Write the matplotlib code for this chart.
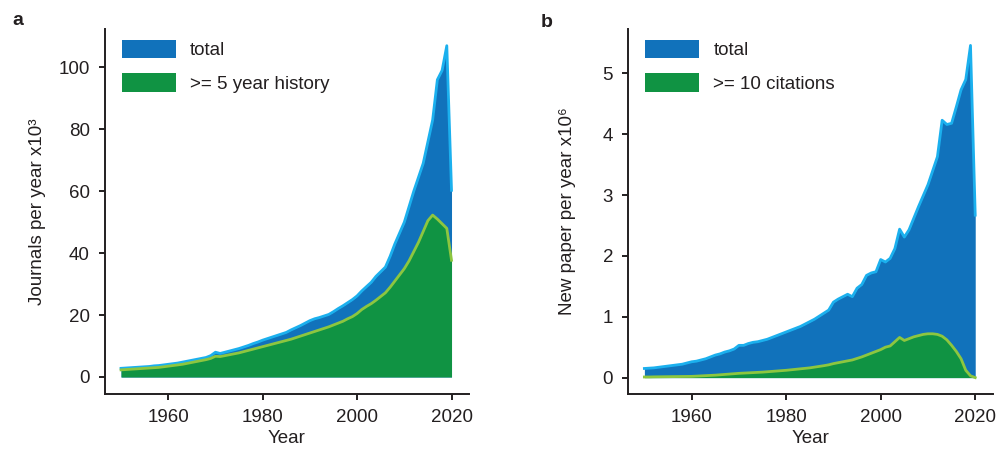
import matplotlib
matplotlib.use("Agg")
import matplotlib.pyplot as plt
from matplotlib.patches import Patch
import numpy as np

plt.rcParams['font.family'] = ['Liberation Sans', 'DejaVu Sans']
plt.rcParams['font.size'] = 13.5

# jaren
years = np.arange(1950, 2021)

# paneel a: tijdschriften per jaar (x10^3)
journals_total = [2.8, 2.9, 3.0, 3.1, 3.2, 3.3, 3.4, 3.6, 3.7, 3.9,
                  4.1, 4.3, 4.5, 4.8, 5.1, 5.4, 5.7, 6.0, 6.3, 6.9,
                  8.0, 7.6, 8.0, 8.4, 8.8, 9.2, 9.7, 10.2, 10.8, 11.3,
                  11.9, 12.4, 12.9, 13.4, 13.9, 14.4, 15.2, 15.9, 16.6, 17.4,
                  18.2, 18.8, 19.2, 19.7, 20.2, 21.1, 22.1, 23.0, 24.0, 25.0,
                  26.2, 27.8, 29.2, 30.6, 32.5, 34.0, 35.5, 39.0, 43.0, 46.5,
                  50.0, 55.0, 60.0, 64.5, 69.0, 76.0, 83.0, 96.0, 99.0, 107.0,
                  60.3]
journals_5y = [2.3, 2.4, 2.5, 2.6, 2.7, 2.8, 2.9, 3.0, 3.1, 3.3,
               3.5, 3.7, 3.9, 4.1, 4.4, 4.7, 5.0, 5.3, 5.6, 6.0,
               6.7, 6.6, 6.9, 7.2, 7.5, 7.8, 8.2, 8.6, 9.0, 9.4,
               9.8, 10.2, 10.6, 11.0, 11.4, 11.8, 12.2, 12.7, 13.2, 13.7,
               14.2, 14.7, 15.2, 15.7, 16.2, 16.8, 17.4, 18.0, 18.8, 19.5,
               20.5, 21.8, 22.8, 23.7, 24.8, 26.0, 27.2, 29.0, 31.0, 33.0,
               35.0, 37.5, 40.5, 43.5, 47.0, 50.5, 52.3, 51.0, 49.5, 48.0,
               37.7]

# paneel b: nieuwe papers per jaar (x10^6)
papers_total = [0.15, 0.155, 0.16, 0.17, 0.18, 0.19, 0.20, 0.21, 0.22, 0.24,
                0.26, 0.27, 0.29, 0.31, 0.34, 0.37, 0.39, 0.42, 0.44, 0.47,
                0.53, 0.53, 0.56, 0.58, 0.59, 0.61, 0.63, 0.66, 0.69, 0.72,
                0.75, 0.78, 0.81, 0.84, 0.88, 0.92, 0.96, 1.01, 1.06, 1.11,
                1.24, 1.29, 1.33, 1.37, 1.33, 1.47, 1.53, 1.68, 1.72, 1.74,
                1.94, 1.90, 1.96, 2.12, 2.44, 2.31, 2.43, 2.62, 2.81, 2.99,
                3.17, 3.40, 3.63, 4.23, 4.16, 4.18, 4.45, 4.73, 4.90, 5.46,
                2.67]
papers_10c = [0.01, 0.01, 0.012, 0.013, 0.014, 0.015, 0.016, 0.017, 0.018, 0.019,
              0.02, 0.024, 0.028, 0.032, 0.036, 0.04, 0.046, 0.052, 0.058, 0.064,
              0.07, 0.074, 0.078, 0.082, 0.086, 0.09, 0.096, 0.102, 0.108, 0.114,
              0.12, 0.128, 0.136, 0.144, 0.152, 0.16, 0.172, 0.184, 0.196, 0.21,
              0.23, 0.245, 0.26, 0.275, 0.29, 0.315, 0.34, 0.37, 0.40, 0.43,
              0.46, 0.50, 0.52, 0.59, 0.66, 0.61, 0.64, 0.67, 0.69, 0.71,
              0.72, 0.72, 0.71, 0.68, 0.62, 0.53, 0.43, 0.31, 0.12, 0.03,
              0.0]

BLUE_FILL = '#1172bb'
BLUE_LINE = '#1bb0ee'
GREEN_FILL = '#109343'
GREEN_LINE = '#8dc63f'
INK = '#231f20'

fig = plt.figure(figsize=(9.97, 4.5), dpi=100)
ax_a = fig.add_axes([0.1053, 0.1244, 0.3651, 0.8112])
ax_b = fig.add_axes([0.6302, 0.1244, 0.3655, 0.8112])


def teken_paneel(ax, totaal, deel, label_deel, ylabel, ylim, yticks, label_x):
    ax.fill_between(years, 0, totaal, color=BLUE_FILL, linewidth=0, zorder=1)
    ax.plot(years, totaal, color=BLUE_LINE, lw=2, zorder=2)
    ax.fill_between(years, 0, deel, color=GREEN_FILL, linewidth=0, zorder=3)
    ax.plot(years, deel, color=GREEN_LINE, lw=2, zorder=4)

    ax.set_xlim(1946.6, 2023.7)
    ax.set_ylim(*ylim)
    ax.set_xticks([1960, 1980, 2000, 2020])
    ax.set_yticks(yticks)
    ax.set_xlabel('Year', labelpad=3, color=INK)
    ax.set_ylabel(ylabel, color=INK)
    ax.yaxis.set_label_coords(label_x, 0.5)
    ax.spines['top'].set_visible(False)
    ax.spines['right'].set_visible(False)
    for s in ('left', 'bottom'):
        ax.spines[s].set_linewidth(1.4)
        ax.spines[s].set_color(INK)
    ax.tick_params(direction='out', length=4, width=1.4,
                   color=INK, labelcolor=INK)
    ax.tick_params(axis='y', pad=7)
    ax.tick_params(axis='x', pad=7)

    handles = [Patch(facecolor=BLUE_FILL, edgecolor='none', label='total'),
               Patch(facecolor=GREEN_FILL, edgecolor='none', label=label_deel)]
    ax.legend(handles=handles, loc='upper left', bbox_to_anchor=(0.047, 0.97),
              frameon=False, borderpad=0, borderaxespad=0,
              handlelength=2.88, handleheight=1.12, handletextpad=0.75,
              labelspacing=0.75, labelcolor=INK)


teken_paneel(ax_a, journals_total, journals_5y, '>= 5 year history',
             'Journals per year x10³', (-5.5, 112.4), [0, 20, 40, 60, 80, 100],
             -0.161)
teken_paneel(ax_b, papers_total, papers_10c, '>= 10 citations',
             'New paper per year x10⁶', (-0.27, 5.73), [0, 1, 2, 3, 4, 5],
             -0.143)

fig.text(0.012, 0.955, 'a', fontsize=14, fontweight='bold', va='center', color=INK)
fig.text(0.542, 0.95, 'b', fontsize=14, fontweight='bold', va='center', color=INK)

fig.savefig('out.png', dpi=100)
